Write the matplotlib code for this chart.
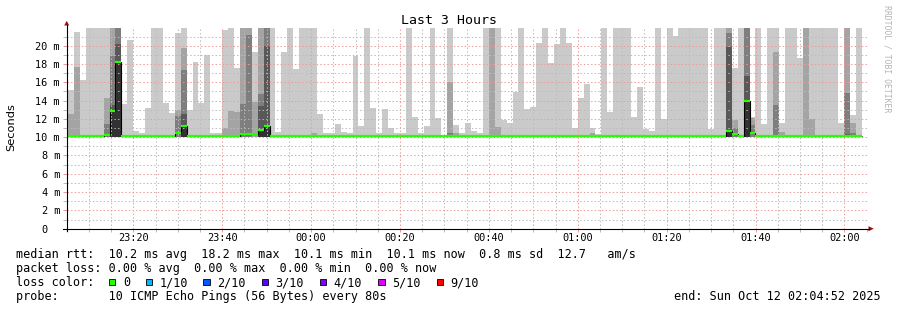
import numpy as np
import matplotlib
matplotlib.use("Agg")
import matplotlib.pyplot as plt
from matplotlib.patches import Rectangle, Polygon
from matplotlib.lines import Line2D

plt.rcParams["lines.scale_dashes"] = False

# ---------------- data (milliseconds), one value per 80 s bin ----------------
# outermost smoke band (ping 1..10 spread) top
smoke_outer = [
    15.5, 15.2, 21.5, 16.25, 23, 23, 23, 23, 23, 23, 13.6, 20.6, 10.7, 10.5, 13.2,
    23, 23, 13.7, 12.6, 21.35, 23, 13.0, 18.2, 13.74, 18.98, 10.5, 10.5, 21.7, 23, 17.56,
    23, 23, 19.3, 23, 23, 23, 10.6, 19.3, 23, 17.45, 23, 23, 23, 12.54, 10.43,
    10.43, 11.45, 10.57, 10.43, 18.88, 11.23, 23, 13.2, 10.43, 13.1, 11.0, 10.43, 10.43, 23, 12.18,
    10.43, 11.23, 23, 12.07, 10.25, 23, 11.34, 10.43, 11.56, 10.68, 10.46, 23, 23, 23, 11.9,
    11.56, 14.95, 23, 13.09, 13.3, 20.34, 23, 18.1, 20.2, 23, 20.3, 11.0, 14.3, 15.8, 11.0,
    10.4, 23, 12.76, 23, 23, 23, 12.2, 15.5, 10.9, 10.7, 23, 12.0, 23, 21.07, 23,
    23, 23, 23, 23, 10.85, 23, 23, 23, 17.57, 23, 23, 12.2, 23, 11.45, 23,
    23, 11.56, 23, 23, 18.66, 23, 23, 23, 23, 23, 23, 11.56, 23, 12.43, 23,
]
smoke_2 = [
    None, 12.5, 17.7, None, None, None, None, 14.3, 23, 23, None, None, None, None, None,
    None, None, None, None, 13.0, 19.75, None, None, None, None, None, None, 11.0, 12.86, 12.75,
    23, 23, 13.8, 23, 23, None, None, None, None, None, None, None, 10.46, None, None,
    None, None, None, None, None, None, None, None, None, None, None, None, None, None, None,
    None, None, None, None, None, 16.03, 10.45, None, None, None, None, None, 23, 11.12, None,
    None, None, None, None, None, None, None, None, None, None, None, None, None, None, 10.46,
    None, None, None, None, None, None, None, None, None, None, None, None, None, None, None,
    None, None, None, None, None, None, None, 23, 11.88, None, 23, 12.1, None, None, None,
    19.3, 10.6, None, None, None, 23, 12.0, None, None, None, None, None, 23, 11.55, None,
]
smoke_3 = [
    None, None, None, None, None, None, None, 11.4, 18.9, 23, None, None, None, None, None,
    None, None, None, None, 12.3, 17.3, None, None, None, None, None, None, None, None, None,
    13.6, 21.2, None, 14.7, 23, None, None, None, None, None, None, None, None, None, None,
    None, None, None, None, None, None, None, None, None, None, None, None, None, None, None,
    None, None, None, None, None, 10.45, None, None, None, None, None, None, None, None, None,
    None, None, None, None, None, None, None, None, None, None, None, None, None, None, None,
    None, None, None, None, None, None, None, None, None, None, None, None, None, None, None,
    None, None, None, None, None, None, None, 21.4, 11.0, None, 23, 11.33, None, None, None,
    13.5, None, None, None, None, None, None, None, None, None, None, None, 14.84, 10.45, None,
]
smoke_4 = [
    None, None, None, None, None, None, None, None, 13.5, 20.2, None, None, None, None, None,
    None, None, None, None, None, 12.5, None, None, None, None, None, None, None, None, None,
    None, None, None, 13.4, 19.97, None, None, None, None, None, None, None, None, None, None,
    None, None, None, None, None, None, None, None, None, None, None, None, None, None, None,
    None, None, None, None, None, None, None, None, None, None, None, None, None, None, None,
    None, None, None, None, None, None, None, None, None, None, None, None, None, None, None,
    None, None, None, None, None, None, None, None, None, None, None, None, None, None, None,
    None, None, None, None, None, None, None, 19.86, None, None, 16.7, None, None, None, None,
    None, None, None, None, None, None, None, None, None, None, None, None, 10.4, None, None,
]
smoke_core = [
    None, None, None, None, None, None, None, None, 12.9, 18.2, None, None, None, None, None,
    None, None, None, None, None, 11.26, None, None, None, None, None, None, None, None, None,
    None, None, None, 10.8, 11.26, None, None, None, None, None, None, None, None, None, None,
    None, None, None, None, None, None, None, None, None, None, None, None, None, None, None,
    None, None, None, None, None, None, None, None, None, None, None, None, None, None, None,
    None, None, None, None, None, None, None, None, None, None, None, None, None, None, None,
    None, None, None, None, None, None, None, None, None, None, None, None, None, None, None,
    None, None, None, None, None, None, None, 10.72, None, None, 13.99, None, None, None, None,
    None, None, None, None, None, None, None, None, None, None, None, None, None, None, None,
]
median_rtt = [
    10.1, 10.1, 10.1, 10.1, 10.1, 10.1, 10.1, 10.25, 12.9, 18.2, 10.1, 10.1, 10.1, 10.1, 10.1,
    10.1, 10.1, 10.1, 10.1, 10.5, 11.26, 10.1, 10.1, 10.1, 10.1, 10.1, 10.1, 10.1, 10.1, 10.1,
    10.3, 10.4, 10.3, 10.8, 11.26, 10.1, 10.1, 10.1, 10.1, 10.1, 10.1, 10.1, 10.1, 10.1, 10.1,
    10.1, 10.1, 10.1, 10.1, 10.1, 10.1, 10.1, 10.1, 10.1, 10.1, 10.1, 10.1, 10.1, 10.1, 10.1,
    10.1, 10.1, 10.1, 10.1, 10.1, 10.1, 10.1, 10.1, 10.1, 10.1, 10.1, 10.1, 10.1, 10.1, 10.1,
    10.1, 10.1, 10.1, 10.1, 10.1, 10.1, 10.1, 10.1, 10.1, 10.1, 10.1, 10.1, 10.1, 10.1, 10.1,
    10.1, 10.1, 10.1, 10.1, 10.1, 10.1, 10.1, 10.1, 10.1, 10.1, 10.1, 10.1, 10.1, 10.1, 10.1,
    10.1, 10.1, 10.1, 10.1, 10.1, 10.1, 10.1, 10.72, 10.3, 10.1, 13.99, 10.5, 10.1, 10.1, 10.1,
    10.1, 10.1, 10.1, 10.1, 10.1, 10.1, 10.1, 10.1, 10.1, 10.1, 10.1, 10.1, 10.1, 10.1, 10.1,
]
smoke_floor = 10.05

x_tick_minutes = [20, 40, 60, 80, 100, 120, 140, 160, 180]   # minutes after 23:00
x_tick_labels = ["23:20", "23:40", "00:00", "00:20", "00:40", "01:00", "01:20", "01:40", "02:00"]
y_tick_values = [0, 2, 4, 6, 8, 10, 12, 14, 16, 18, 20]
y_tick_labels = ["0  ", "2 m", "4 m", "6 m", "8 m", "10 m", "12 m", "14 m", "16 m", "18 m", "20 m"]

loss_labels = ["0", "1/10", "2/10", "3/10", "4/10", "5/10", "9/10"]
loss_colors = ["#26ff00", "#00b8ff", "#0059ff", "#5e00ff", "#7e00ff", "#dd00ff", "#ff0000"]

legend_median = "median rtt:  10.2 ms avg  18.2 ms max  10.1 ms min  10.1 ms now  0.8 ms sd  12.7   am/s"
legend_loss = "packet loss: 0.00 % avg  0.00 % max  0.00 % min  0.00 % now"
legend_probe = "probe:       10 ICMP Echo Pings (56 Bytes) every 80s"
end_text = "end: Sun Oct 12 02:04:52 2025"
title_text = "Last 3 Hours"

# ---------------- layout ----------------
W, H, DPI = 897, 310, 100
MONO = "DejaVu Sans Mono"


def P(x, y):
    return (x / W, 1 - y / H)


fig = plt.figure(figsize=(W / DPI, H / DPI), dpi=DPI)
fig.patch.set_facecolor("white")
ax_l, ax_r, ax_b, ax_t = 66.7, 866.7, 228.7, 28.0
ax = fig.add_axes([ax_l / W, 1 - ax_b / H, (ax_r - ax_l) / W, (ax_b - ax_t) / H])
ax.set_xlim(5, 185)
ax.set_ylim(0, 21.93)
for s in ax.spines.values():
    s.set_visible(False)

n = len(median_rtt)
step = 80 / 60.0
starts = 3.976 + step * np.arange(n)
edges = np.append(starts, starts[-1] + step)


def band(vals):
    a = np.array([smoke_floor if v is None else v for v in vals], dtype=float)
    return np.append(a, a[-1])


shades = ["#cacaca", "#a4a4a4", "#7e7e7e", "#585858", "#323232"]
for vals, col in zip([smoke_outer, smoke_2, smoke_3, smoke_4, smoke_core], shades):
    ax.fill_between(edges, smoke_floor, band(vals), step="post", color=col, lw=0, zorder=1)

med = np.array(median_rtt, dtype=float)
ax.stairs(med, edges, baseline=None, color="black", lw=0.8, zorder=2)
ax.hlines(med, starts, starts + step, colors=loss_colors[0], lw=1.6, zorder=3,
          capstyle="butt")

# grid
ax.set_axisbelow("line")
ax.set_xticks(x_tick_minutes)
ax.set_xticklabels(x_tick_labels, fontfamily=MONO, fontsize=7.4)
ax.set_xticks(np.arange(5, 186, 5), minor=True)
ax.set_yticks(y_tick_values)
ax.set_yticklabels(y_tick_labels, fontfamily=MONO, fontsize=7.4)
ax.set_yticks(np.arange(1, 22, 2), minor=True)
dots = (0, (1.0, 1.6))
ax.grid(which="major", color="#f09a9a", lw=0.72, linestyle=dots)
ax.grid(which="minor", color="#bbbbbb", lw=0.72, linestyle=dots)
ax.tick_params(axis="x", which="major", length=2.0, width=0.72, color="#f09a9a", pad=1.0)
ax.tick_params(axis="x", which="minor", length=2.0, width=0.72, color="#bbbbbb")
ax.tick_params(axis="y", which="major", length=2.9, width=0.72, color="#f09a9a", pad=2.0)
ax.tick_params(axis="y", which="minor", length=2.9, width=0.72, color="#bbbbbb")

# axes lines and arrows
fig.add_artist(Line2D([P(62.7, 0)[0], P(868.7, 0)[0]], [P(0, ax_b)[1]] * 2,
                      transform=fig.transFigure, color="black", lw=0.8))
fig.add_artist(Line2D([P(ax_l, 0)[0]] * 2, [P(0, 231)[1], P(0, 25.3)[1]],
                      transform=fig.transFigure, color="black", lw=0.8))
arrow_col = "#9a1010"
fig.add_artist(Polygon([P(64.2, 25.5), P(69.2, 25.5), P(66.7, 20.8)], closed=True,
                       transform=fig.transFigure, color=arrow_col, lw=0))
fig.add_artist(Polygon([P(868.5, 226.2), P(868.5, 231.2), P(873.8, 228.7)], closed=True,
                       transform=fig.transFigure, color=arrow_col, lw=0))

# texts
fig.text(*P(448.5, 24.5), title_text, ha="center", va="baseline", fontsize=9.5,
         fontfamily=MONO)
fig.text(*P(10.8, 127.5), "Seconds", rotation=90, ha="center", va="center",
         fontsize=8.2, fontfamily="DejaVu Sans")
fig.text(*P(887, 59), "RRDTOOL / TOBI OETIKER", rotation=270, ha="center", va="center",
         fontsize=5.9, fontfamily=MONO, color="#b4b4b4")

LF = 8.43
fig.text(*P(16, 258.3), legend_median, ha="left", va="baseline", fontsize=LF, fontfamily=MONO)
fig.text(*P(16, 272.3), legend_loss, ha="left", va="baseline", fontsize=LF, fontfamily=MONO)
fig.text(*P(16, 286.3), "loss color:", ha="left", va="baseline", fontsize=LF, fontfamily=MONO)
sq_x = [109, 145.7, 203.3, 261.7, 320, 378.3, 436.7]
lab_x = [123.3, 160, 217.3, 275.3, 333.3, 391.7, 450]
for sx, lx, lab, col in zip(sq_x, lab_x, loss_labels, loss_colors):
    x0, y0 = P(sx, 285.3)
    fig.add_artist(Rectangle((x0, y0), 6.2 / W, 6.2 / H, transform=fig.transFigure,
                             facecolor=col, edgecolor="black", lw=0.6))
    fig.text(*P(lx, 286.3), lab, ha="left", va="baseline", fontsize=LF, fontfamily=MONO)
fig.text(*P(16, 300.3), legend_probe, ha="left", va="baseline", fontsize=LF, fontfamily=MONO)
fig.text(*P(880.5, 300.3), end_text, ha="right", va="baseline", fontsize=LF, fontfamily=MONO)

fig.savefig("out.png", dpi=DPI, facecolor="white")
